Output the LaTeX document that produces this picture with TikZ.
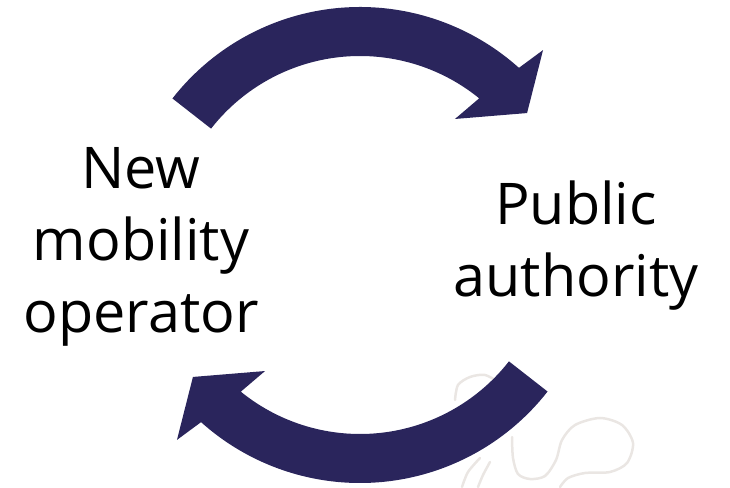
\documentclass[tikz,border=0pt]{standalone}
\usepackage{fontspec}
\setmainfont{Open Sans}
\definecolor{navy}{HTML}{2A255C}
\definecolor{wmark}{HTML}{EAE6E3}
\tikzset{
  txtlabel/.style={font=\fontsize{57.5}{72}\selectfont, align=center, inner sep=0pt, text=black},
  watermark/.style={draw=wmark, line width=2.5pt, line cap=round},
  cyclearr/.pic={
    \fill[navy] (142:189) -- (142:238)
      arc[start angle=142, end angle=48.1, radius=238]
      -- (46.8:267.4) -- (38.3:212.9) -- (53.0:157.8) -- (50.9:189)
      arc[start angle=50.9, end angle=142, radius=189] -- cycle;
  }
}
\begin{document}
\begin{tikzpicture}[x=1pt,y=1pt]
\useasboundingbox (0,0) rectangle (730,487);
% faint watermark (image coordinates, y down)
\begin{scope}[shift={(0,487)}, yscale=-1]
  \draw[watermark] plot[smooth] coordinates {(455,400) (458,385) (470,377) (485,375) (500,383)};
  \draw[watermark] plot[smooth] coordinates {(462,487) (468,472) (480,458)};
  \draw[watermark] plot[smooth] coordinates {(478,487) (483,475) (490,462)};
  \draw[watermark] plot[smooth] coordinates {(512,437) (513,458) (518,474) (530,479) (545,476) (556,460) (562,440) (575,425) (600,418) (622,425) (633,443) (627,463) (610,472) (585,473) (568,478) (560,487)};
\end{scope}
% arrows
\coordinate (c) at (360,242);
\pic (toparrow) at (c) {cyclearr};
\pic[rotate=180] (botarrow) at (c) {cyclearr};
% labels
\node[txtlabel] (nmo) at (141,240) {New\\mobility\\operator};
\node[txtlabel] (pa) at (576,241) {Public\\authority};
\end{tikzpicture}
\end{document}
